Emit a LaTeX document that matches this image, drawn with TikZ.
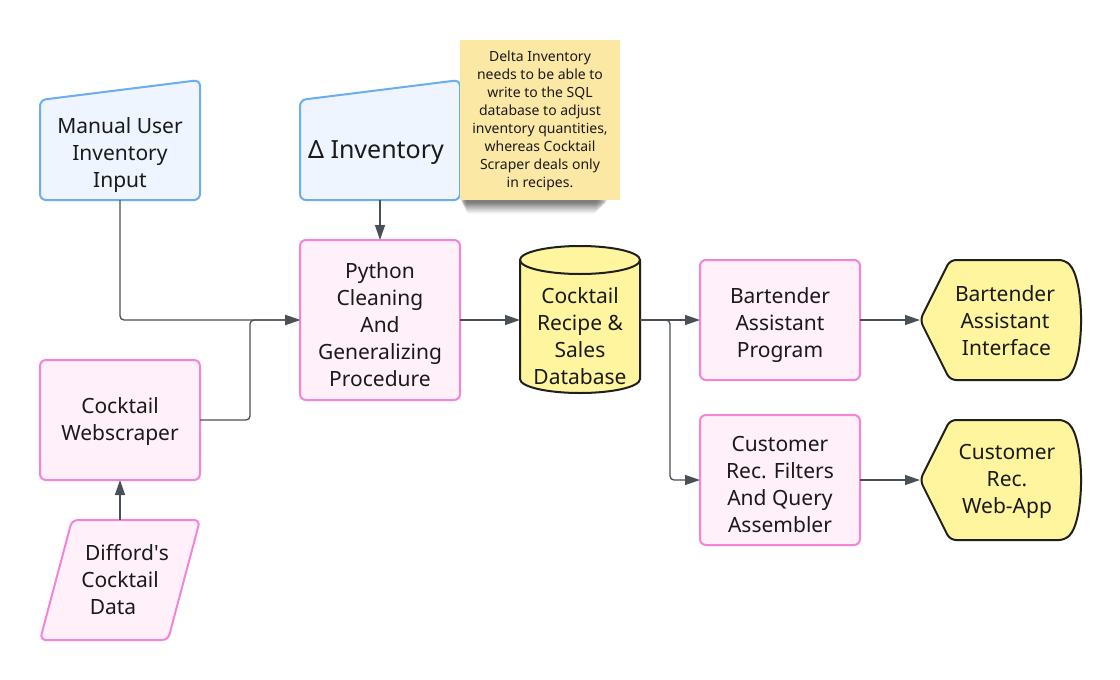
\documentclass[tikz,border=0pt]{standalone}
\usepackage{fontspec}
\setmainfont{Noto Sans}
\newfontfamily\nolig{Noto Sans}
\usetikzlibrary{arrows.meta}
\definecolor{blueF}{HTML}{EEF5FF}
\definecolor{blueD}{HTML}{6BAEF0}
\definecolor{pinkF}{HTML}{FFF0FA}
\definecolor{pinkD}{HTML}{F584D8}
\definecolor{yelF}{HTML}{FFF59F}
\definecolor{yelD}{HTML}{1F1F1F}
\definecolor{noteF}{HTML}{FCE8A5}
\definecolor{linec}{HTML}{4A5058}
\definecolor{txt}{HTML}{1A1A1A}
\begin{document}
\begin{tikzpicture}[x=1pt,y=-1pt,
  conn/.style={draw=linec, line width=1.3pt, -{Triangle[length=15pt,width=10pt]}, rounded corners=4pt},
  lbl/.style={font=\fontsize{21}{27}\selectfont, align=center, text=txt, inner sep=0pt},
  area/.style={draw=none, inner sep=0pt, outer sep=0pt},
  procbox/.style={area, draw=pinkD, fill=pinkF, line width=2pt, rounded corners=6pt, minimum width=160pt},
  blueshape/.style={draw=blueD, fill=blueF, line width=2pt, rounded corners=6pt},
  pinkshape/.style={draw=pinkD, fill=pinkF, line width=2pt, rounded corners=6pt},
  yelshape/.style={draw=yelD, fill=yelF, line width=2pt, rounded corners=6pt},
  notetext/.style={font=\fontsize{14}{17.9}\selectfont, align=center, text=txt, inner sep=0pt}
]
\useasboundingbox[fill=white] (0,0) rectangle (1120,680);

% ---------- Manual User Inventory Input ----------
\node[area, minimum width=160pt, minimum height=120pt] (manual) at (120,140) {};
\draw[blueshape] (40,200) -- (40,100) -- (200,80) -- (200,200) -- cycle;
\node[lbl] (manualtxt) at (120,155) {Manual User\\Inventory\\Input};

% ---------- Delta Inventory ----------
\node[area, minimum width=160pt, minimum height=120pt] (delta) at (380,140) {};
\draw[blueshape] (300,200) -- (300,100) -- (460,80) -- (460,200) -- cycle;
\node[lbl, font=\fontsize{25}{30}\selectfont] (deltatxt) at (376,153) {Δ Inventory};

% ---------- Note (soft shadow) ----------
\foreach \i/\o in {0/0.10,1.5/0.10,3/0.10,4.5/0.09,6/0.08,7.5/0.07,9/0.06,10.5/0.05}{
  \fill[black, opacity=\o, rounded corners=3pt] (461+0.5*\i,190) rectangle (607-\i,203+\i);
}
\node[area, fill=noteF, minimum width=160pt, minimum height=160pt] (note) at (540,120) {};
\node[notetext] (notetxt) at (540,121) {Delta Inventory\\needs to be able to\\write to the SQL\\database to adjust\\inventory quantities,\\whereas Cocktail\\Scraper deals only\\in recipes.};

% ---------- Python ----------
\node[procbox, minimum height=160pt] (python) at (380,320) {};
\node[lbl] (pythontxt) at (380,325) {Python\\Cleaning\\And\\Generalizing\\Procedure};

% ---------- Webscraper ----------
\node[procbox, minimum height=120pt] (scraper) at (120,420) {};
\node[lbl] (scrapertxt) at (120,422) {Cocktail\\Webscraper};

% ---------- Difford's ----------
\node[area, minimum width=160pt, minimum height=120pt] (difford) at (120,580) {};
\draw[pinkshape] (72,520) -- (200,520) -- (168,640) -- (40,640) -- cycle;
\node[lbl] (diffordtxt) at (120,580) {\hspace*{14pt}Difford{\nolig '}s\\Cocktail\\Data\hspace*{14pt}};

% ---------- Database cylinder ----------
\node[area, minimum width=120pt, minimum height=148pt] (db) at (580,320) {};
\draw[yelshape, rounded corners=0pt] (520,260) -- (520,379)
   arc[start angle=180, end angle=360, x radius=60pt, y radius=14pt]
   -- (640,260)
   arc[start angle=0, end angle=180, x radius=60pt, y radius=14pt] -- cycle;
\draw[draw=yelD, line width=2pt] (520,260) arc[start angle=180, end angle=360, x radius=60pt, y radius=14pt];
\node[lbl] (dbtxt) at (580,336) {Cocktail\\Recipe \&\\Sales\\Database};

% ---------- Bartender Assistant Program ----------
\node[procbox, minimum height=120pt] (bprog) at (780,320) {};
\node[lbl] (bprogtxt) at (780,325) {Bartender\\Assistant\\Program};

% ---------- Customer Rec. Filters ----------
\node[procbox, minimum height=130pt] (cfilt) at (780,480) {};
\node[lbl] (cfilttxt) at (780,484) {Customer\\Rec. Filters\\And Query\\Assembler};

% ---------- Bartender Assistant Interface ----------
\node[area, minimum width=160pt, minimum height=120pt] (bint) at (1000,320) {};
\draw[yelshape] (920,320) -- (950,260) -- (1065,260)
   .. controls (1085,280) and (1085,360) .. (1065,380) -- (950,380) -- cycle;
\node[lbl] (binttxt) at (1005,321) {Bartender\\Assistant\hspace*{5pt}\\\hspace*{3pt}Interface};

% ---------- Customer Rec. Web-App ----------
\node[area, minimum width=160pt, minimum height=120pt] (capp) at (1000,480) {};
\draw[yelshape] (920,480) -- (950,420) -- (1065,420)
   .. controls (1085,440) and (1085,520) .. (1065,540) -- (950,540) -- cycle;
\node[lbl] (capptxt) at (1007,481) {Customer\\Rec.\hspace*{8pt}\\Web-App};

% ---------- Connectors ----------
\draw[conn] (manual.south) |- (python.west);
\draw[conn] (scraper.east) -- ++(50,0) |- (python.west);
\draw[conn] (delta.south) -- (python.north);
\draw[conn] (difford.north) -- (scraper.south);
\draw[conn] (python.east) -- (db.west);
\draw[conn] (db.east) -- (bprog.west);
\draw[conn] (db.east) -- ++(30,0) |- (cfilt.west);
\draw[conn] (bprog.east) -- (bint.west);
\draw[conn] (cfilt.east) -- (capp.west);
\end{tikzpicture}
\end{document}
